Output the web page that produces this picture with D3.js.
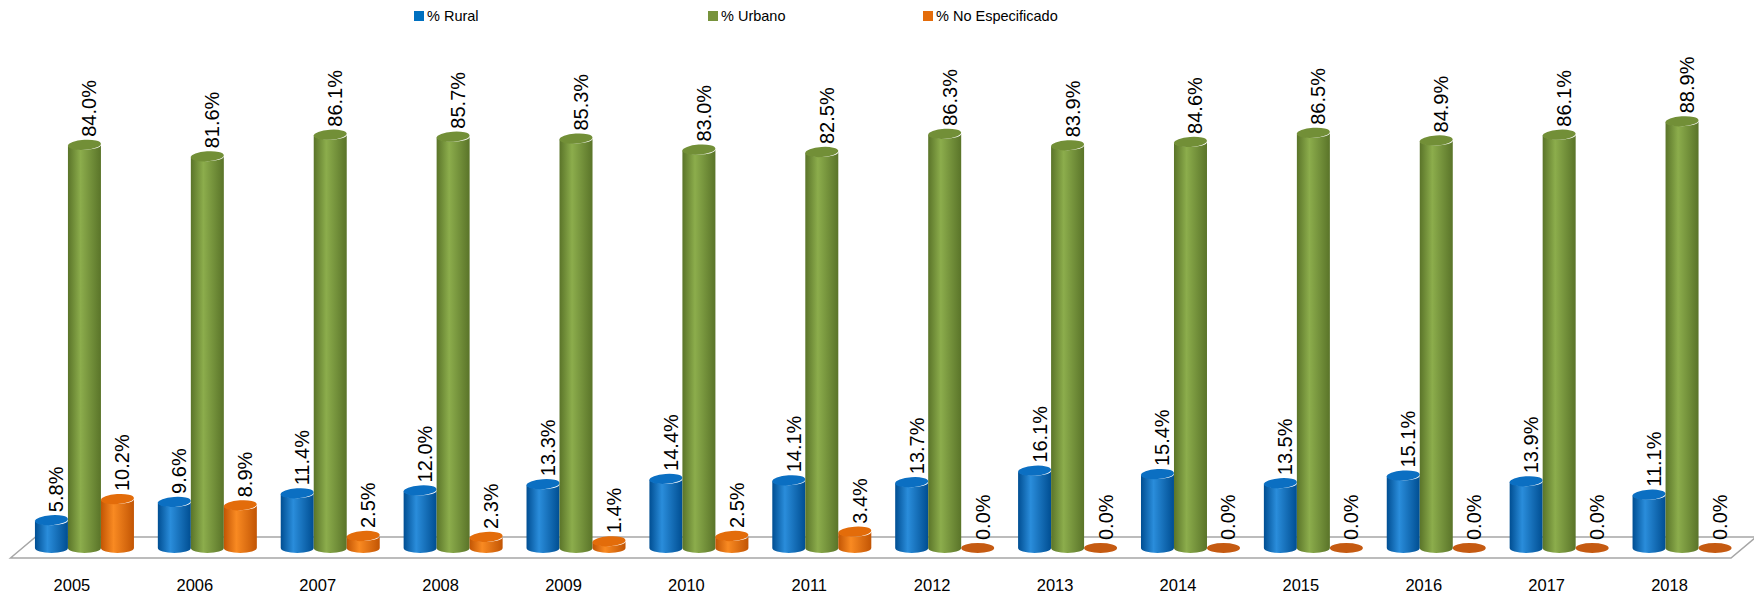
<!DOCTYPE html>
<html>
<head>
<meta charset="utf-8">
<script src="https://cdn.jsdelivr.net/npm/d3@7"></script>
<style>
  html, body { margin: 0; padding: 0; background: #ffffff; }
  svg { display: block; }
</style>
</head>
<body>
<svg id="chart" width="1754" height="595"></svg>
<script>
// Distribución porcentual por área de residencia, 2005–2018
const years = ["2005","2006","2007","2008","2009","2010","2011","2012","2013","2014","2015","2016","2017","2018"];
const rural = [5.8, 9.6, 11.4, 12.0, 13.3, 14.4, 14.1, 13.7, 16.1, 15.4, 13.5, 15.1, 13.9, 11.1];
const urbano = [84.0, 81.6, 86.1, 85.7, 85.3, 83.0, 82.5, 86.3, 83.9, 84.6, 86.5, 84.9, 86.1, 88.9];
const noEspecificado = [10.2, 8.9, 2.5, 2.3, 1.4, 2.5, 3.4, 0.0, 0.0, 0.0, 0.0, 0.0, 0.0, 0.0];
const seriesNames = ["% Rural", "% Urbano", "% No Especificado"];
const seriesValues = [rural, urbano, noEspecificado];

const palette = {
  "% Rural":           { dark: "#004e92", light: "#2a8ddb", top: "#0b6fc2", flat: "#0a5ea6", key: "#0070C0" },
  "% Urbano":          { dark: "#5a7429", light: "#8cad4c", top: "#728f37", flat: "#63802e", key: "#77933C" },
  "% No Especificado": { dark: "#c25504", light: "#f98a22", top: "#e36c0a", flat: "#c55a11", key: "#E46C0A" }
};

const svg = d3.select("#chart");
const defs = svg.append("defs");

// Horizontal shading that gives each bar its cylindrical look
seriesNames.forEach((name, i) => {
  const c = palette[name];
  const g = defs.append("linearGradient").attr("id", "cyl" + i)
    .attr("x1", "0%").attr("x2", "100%").attr("y1", "0%").attr("y2", "0%");
  g.append("stop").attr("offset", "0%").attr("stop-color", c.dark);
  g.append("stop").attr("offset", "38%").attr("stop-color", c.light);
  g.append("stop").attr("offset", "100%").attr("stop-color", c.dark);
});

// Scales
const baseY = 548;
const x = d3.scaleBand().domain(years).range([10.5, 1731]).padding(0);
const xs = d3.scaleBand().domain(seriesNames).range([-37, 62]).padding(0);
const y = d3.scaleLinear().domain([0, 100]).range([baseY, baseY - 480]);
const rx = xs.bandwidth() / 2;
const ry = 5;

// Floor of the 3D plot area
const floorFront = 558, floorBack = 537, depth = 25;
const x0 = x.range()[0], x1 = x.range()[1];
svg.append("path")
  .attr("d", `M${x0},${floorFront} L${x0 + depth},${floorBack} L${x1 + depth},${floorBack} L${x1},${floorFront} Z`)
  .attr("fill", "#ffffff")
  .attr("stroke", "#a6a6a6")
  .attr("stroke-width", 1.5);

// Rows of (year, series, value)
const rows = [];
years.forEach((yr, j) => {
  seriesNames.forEach((s, i) => {
    rows.push({ year: yr, series: s, si: i, value: seriesValues[i][j] });
  });
});

const bars = svg.append("g");
rows.forEach(d => {
  const cx = x(d.year) + x.bandwidth() / 2 + xs(d.series) + rx;
  const yt = y(d.value);
  const c = palette[d.series];
  const g = bars.append("g");
  if (d.value <= 0) {
    g.append("ellipse")
      .attr("cx", cx).attr("cy", baseY)
      .attr("rx", rx).attr("ry", ry)
      .attr("fill", c.flat);
    return;
  }
  g.append("path")
    .attr("d", `M${cx - rx},${yt} L${cx - rx},${baseY} A${rx},${ry} 0 0 0 ${cx + rx},${baseY} L${cx + rx},${yt} A${rx},${ry} 0 0 1 ${cx - rx},${yt} Z`)
    .attr("fill", `url(#cyl${d.si})`);
  g.append("ellipse")
    .attr("cx", cx).attr("cy", yt)
    .attr("rx", rx).attr("ry", ry)
    .attr("transform", `rotate(-4 ${cx} ${yt})`)
    .attr("fill", c.top);
});

// Rotated value labels above each bar
svg.append("g").selectAll("text")
  .data(rows)
  .join("text")
  .attr("transform", d => {
    const cx = x(d.year) + x.bandwidth() / 2 + xs(d.series) + rx + 5;
    const ty = y(d.value) - ry - 3;
    return `translate(${cx},${ty}) rotate(-90)`;
  })
  .attr("text-anchor", "start")
  .attr("dominant-baseline", "central")
  .attr("font-family", "'Liberation Sans', Arial, sans-serif")
  .attr("font-size", 20)
  .attr("fill", "#000")
  .text(d => d.value.toFixed(1) + "%");

// Category axis
const axis = d3.axisBottom(x).tickSize(0).tickPadding(0);
const axisG = svg.append("g").attr("transform", `translate(0,${floorFront + 21})`).call(axis);
axisG.select(".domain").remove();
axisG.selectAll("text")
  .attr("font-family", "'Liberation Sans', Arial, sans-serif")
  .attr("font-size", 16.5)
  .attr("fill", "#000")
  .attr("dy", "0.71em");

// Legend
const legendX = [414, 708, 923];
const legend = svg.append("g");
seriesNames.forEach((s, i) => {
  legend.append("rect")
    .attr("x", legendX[i]).attr("y", 11)
    .attr("width", 10).attr("height", 10)
    .attr("fill", palette[s].key);
  legend.append("text")
    .attr("x", legendX[i] + 13).attr("y", 21)
    .attr("font-family", "'Liberation Sans', Arial, sans-serif")
    .attr("font-size", 14.5)
    .attr("fill", "#000")
    .text(s);
});
</script>
</body>
</html>
